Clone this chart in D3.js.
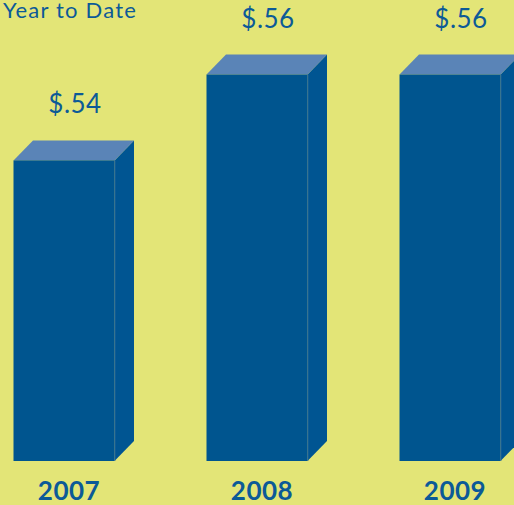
<!DOCTYPE html>
<html>
<head>
<meta charset="utf-8">
<script src="https://cdn.jsdelivr.net/npm/d3@7"></script>
<style>
  html, body { margin: 0; padding: 0; background: #e3e577; overflow: hidden; }
  svg { display: block; }
</style>
</head>
<body>
<script>
const years = ["2007", "2008", "2009"];
const values = [0.54, 0.56, 0.56];
const valueLabels = ["$.54", "$.56", "$.56"];
const title = "Year to Date";

const W = 514, H = 505;
const depthX = 19.5, depthY = 20;
const baseY = 461;

const svg = d3.select("body").append("svg").attr("width", W).attr("height", H);
svg.append("rect").attr("width", W).attr("height", H).attr("fill", "#e3e577");

const x = d3.scaleBand().domain(years).range([13.5, 500.5]).paddingInner(0.4767).paddingOuter(0);
const y = d3.scaleLinear().domain([0.47, 0.56]).range([baseY, 74.5]);

const textColor = "#0c5a97";

const g = svg.append("g");
years.forEach((yr, i) => {
  const x0 = x(yr), w = x.bandwidth(), yt = y(values[i]);
  const bar = g.append("g");
  bar.append("path")
    .attr("d", `M${x0 + w},${yt} L${x0 + w + depthX},${yt - depthY} L${x0 + w + depthX},${baseY - depthY} L${x0 + w},${baseY} Z`)
    .attr("fill", "#005592");
  bar.append("path")
    .attr("d", `M${x0},${yt} L${x0 + depthX},${yt - depthY} L${x0 + w + depthX},${yt - depthY} L${x0 + w},${yt} Z`)
    .attr("fill", "#5a84b7");
  bar.append("rect")
    .attr("x", x0).attr("y", yt).attr("width", w).attr("height", baseY - yt)
    .attr("fill", "#00558f");
  bar.append("line")
    .attr("x1", x0 + w + 0.5).attr("x2", x0 + w + 0.5)
    .attr("y1", yt).attr("y2", baseY)
    .attr("stroke", "#3a6f9c").attr("stroke-width", 1).attr("opacity", 0.6);

  g.append("text")
    .attr("x", x0 + w / 2 + 11)
    .attr("y", yt - depthY - 27)
    .attr("text-anchor", "middle")
    .attr("font-family", "Lato, 'Open Sans', sans-serif")
    .attr("font-size", 26)
    .attr("letter-spacing", 0.5)
    .attr("fill", textColor)
    .text(valueLabels[i]);

  g.append("text")
    .attr("x", x0 + w / 2 + 5)
    .attr("y", 500)
    .attr("text-anchor", "middle")
    .attr("font-family", "Lato, 'Open Sans', sans-serif")
    .attr("font-weight", "bold")
    .attr("font-size", 26)
    .attr("letter-spacing", 0.5)
    .attr("fill", textColor)
    .text(yr);
});

svg.append("text")
  .attr("x", 137).attr("y", 18)
  .attr("text-anchor", "end")
  .attr("font-family", "Lato, 'Open Sans', sans-serif")
  .attr("font-size", 22)
  .attr("letter-spacing", 1.2)
  .attr("fill", textColor)
  .text(title);
</script>
</body>
</html>
